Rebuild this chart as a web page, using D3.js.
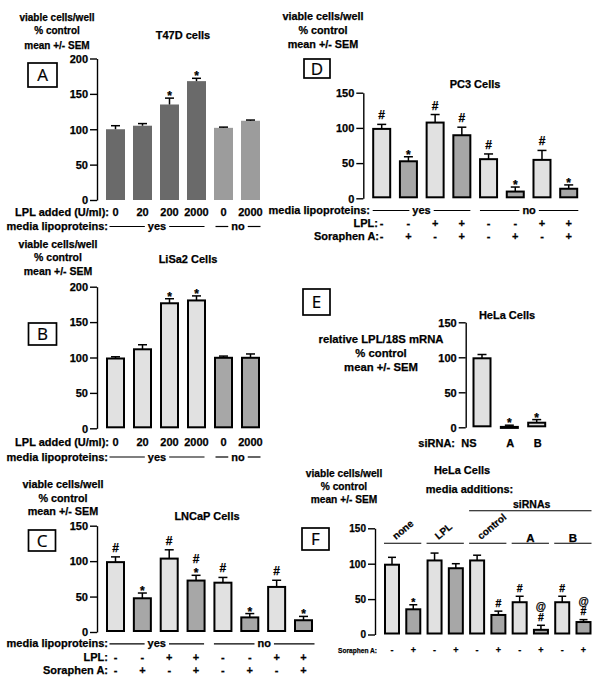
<!DOCTYPE html>
<html><head><meta charset="utf-8">
<script src="https://cdn.jsdelivr.net/npm/d3@7"></script>
<style>
body{margin:0;background:#fff}
svg text{font-family:"Liberation Sans",Arial,Helvetica,sans-serif;font-weight:bold;fill:#000;stroke:#000;stroke-width:0.25px}
svg text.box{font-family:"Open Sans","DejaVu Sans",sans-serif;font-weight:500;stroke-width:0.2px}
</style>
</head><body><svg id="c" width="602" height="686"></svg>
<script>
// ---------------- DATA ----------------
// Panel A: T47D cells
const A_dose = ["0","20","200","2000","0","2000"];
const A_lipo = ["yes","yes","yes","yes","no","no"];
const A_values = [100,105,135,168,102,112];
const A_sem = [5,3,9,4,1,1];
const A_marks = ["","","*","*","",""];
const A_ticks = [0,50,100,150,200];

// Panel B: LiSa2 cells
const B_dose = ["0","20","200","2000","0","2000"];
const B_lipo = ["yes","yes","yes","yes","no","no"];
const B_values = [100,113,178,182,101,101];
const B_sem = [1,5,5,5,1,4];
const B_marks = ["","","*","*","",""];
const B_ticks = [0,50,100,150,200];

// Panel C: LNCaP cells
const C_lipo = ["yes","yes","yes","yes","no","no","no","no"];
const C_lpl = ["-","-","+","+","-","-","+","+"];
const C_sora = ["-","+","-","+","-","+","-","+"];
const C_values = [100,49,105,74,71,22,65,18];
const C_sem = [6,6,11,6,6,4,8,4];
const C_marks = ["#","*","#","#*","#","*","#","*"];
const C_ticks = [0,50,100,150];

// Panel D: PC3 cells
const D_lipo = ["yes","yes","yes","yes","no","no","no","no"];
const D_lpl = ["-","-","+","+","-","-","+","+"];
const D_sora = ["-","+","-","+","-","+","-","+"];
const D_values = [100,54,109,91,57,11,56,15];
const D_sem = [5,5,10,10,6,5,12,4];
const D_marks = ["#","*","#","#","#","*","#","*"];
const D_ticks = [0,50,100,150];

// Panel E: HeLa cells, LPL mRNA
const E_sirna = ["NS","A","B"];
const E_values = [100,2,8];
const E_sem = [4,1,3];
const E_marks = ["","*","*"];
const E_ticks = [0,50,100,150];

// Panel F: HeLa cells, media additions
const F_group = ["none","none","LPL","LPL","control","control","A","A","B","B"];
const F_groupNames = ["none","LPL","control","A","B"];
const F_sora = ["-","+","-","+","-","+","-","+","-","+"];
const F_values = [100,37,106,95,106,29,47,8,47,19];
const F_sem = [9,5,9,5,6,4,7,5,7,2];
const F_marks = ["","*","","","","#","#","@#","#","@#"];
const F_ticks = [0,50,100,150];

// ---------------- DRAWING ----------------
const svg = d3.select("#c");
const LIGHT = "#e1e1e1", DARK = "#a7a7a7";

function txt(x, y, s, size, anchor) {
  return svg.append("text").attr("x", x).attr("y", y)
    .attr("text-anchor", anchor || "middle")
    .style("font-size", size + "px").text(s);
}
function hline(x1, x2, yy, w) {
  svg.append("line").attr("x1", x1).attr("x2", x2).attr("y1", yy).attr("y2", yy)
    .attr("stroke", "#000").attr("stroke-width", w || 1.2);
}
function box(x, y, w, h, letter) {
  svg.append("rect").attr("x", x).attr("y", y).attr("width", w).attr("height", h)
    .attr("fill", "none").attr("stroke", "#000").attr("stroke-width", 1.7);
  svg.append("text").attr("class", "box").attr("x", x + w / 2).attr("y", y + h / 2 + 6)
    .attr("text-anchor", "middle").style("font-size", "17px").text(letter);
}
function ylabel(cx, baselines, lines, size) {
  lines.forEach((l, i) => txt(cx, baselines[i], l, size));
}
function groupLabel(x1, x2, base, label, size) {
  const mid = (x1 + x2) / 2;
  const t = txt(mid, base, label, size);
  const w = t.node().getComputedTextLength();
  const ly = base - 3.5;
  hline(x1, mid - w / 2 - 3, ly);
  hline(mid + w / 2 + 3, x2, ly);
}

const glyphC = {"*": 6.3, "#": 3.9, "@": 3.4};
const firstOff = {"*": 4.5, "#": 8.5, "@": 8.5};

function drawPanel(p) {
  const n = p.values.length;
  const x = d3.scalePoint().domain(d3.range(n)).range(p.xRange);
  const y = d3.scaleLinear().domain([0, p.yMax]).range([p.y0, p.yTop]);
  const g = svg.append("g");
  const ax = g.append("g").attr("transform", `translate(${p.axisX},0)`)
    .call(d3.axisLeft(y).tickValues(p.ticks).tickSize(7).tickPadding(2)
      .tickSizeOuter(0).tickFormat(d3.format("d")));
  ax.select(".domain").attr("stroke", "#000").attr("stroke-width", 1.4);
  ax.selectAll(".tick line").attr("stroke", "#000").attr("stroke-width", 1.4);
  ax.selectAll(".tick text").style("font-size", p.tickSize + "px").attr("dy", "0.34em");

  const inset = p.outline ? 1 : 0;
  g.selectAll("rect.bar").data(p.values).join("rect").attr("class", "bar")
    .attr("x", (d, i) => x(i) - p.barW / 2 + inset)
    .attr("y", d => y(d) + inset)
    .attr("width", p.barW - 2 * inset)
    .attr("height", d => Math.max(1, p.y0 - y(d) - 2 * inset))
    .attr("fill", (d, i) => p.fills[i])
    .attr("stroke", p.outline ? "#000" : "none")
    .attr("stroke-width", p.outline ? 2 : 0);

  p.values.forEach((v, i) => {
    const top = y(v + p.sem[i]);
    g.append("line").attr("x1", x(i)).attr("x2", x(i)).attr("y1", y(v) + inset).attr("y2", top)
      .attr("stroke", "#000").attr("stroke-width", 1.5);
    g.append("line").attr("x1", x(i) - p.capW / 2).attr("x2", x(i) + p.capW / 2)
      .attr("y1", top).attr("y2", top).attr("stroke", "#000").attr("stroke-width", 1.5);
    const m = p.marks[i];
    if (m) {
      const s = p.markSize / 11;
      const chars = m.split("").reverse();
      let c = top - firstOff[chars[0]] * s;
      chars.forEach((ch, k) => {
        if (k > 0) c -= 10.5 * s;
        txt(x(i), c + glyphC[ch] * s, ch, p.markSize);
      });
    }
  });
  return x;
}

// ---------- Panel A ----------
const xA = drawPanel({values: A_values, sem: A_sem, marks: A_marks, ticks: A_ticks,
  xRange: [115.5, 250.5], axisX: 97, y0: 200, yTop: 58.5, yMax: 200, barW: 19, capW: 9,
  fills: A_lipo.map(l => l === "yes" ? "#6a6a6a" : "#9c9c9c"), outline: false, tickSize: 11, markSize: 12});
ylabel(57, [20.5, 34, 48.5], ["viable cells/well", "% control", "mean +/- SEM"], 10);
txt(183, 39.3, "T47D cells", 11);
box(28, 63, 29, 24, "A");
txt(109, 215.5, "LPL added (U/ml):", 11, "end");
A_dose.forEach((d, i) => txt(xA(i), 215.5, d, 11));
txt(108, 230, "media lipoproteins:", 11, "end");
groupLabel(xA(0) - 6, xA(3) + 8, 230, "yes", 11);
groupLabel(xA(4) - 8, xA(5) + 10, 230, "no", 11);

// ---------- Panel B ----------
const xB = drawPanel({values: B_values, sem: B_sem, marks: B_marks, ticks: B_ticks,
  xRange: [115.5, 250.5], axisX: 97, y0: 428.3, yTop: 286.7, yMax: 200, barW: 19, capW: 9,
  fills: B_lipo.map(l => l === "yes" ? LIGHT : DARK), outline: true, tickSize: 11, markSize: 12});
ylabel(58, [248, 261, 275], ["viable cells/well", "% control", "mean +/- SEM"], 10.5);
txt(188, 263.3, "LiSa2 Cells", 11);
box(28.5, 323, 28, 22, "B");
txt(109, 445.8, "LPL added (U/ml):", 11, "end");
B_dose.forEach((d, i) => txt(xB(i), 445.8, d, 11));
txt(108, 460.5, "media lipoproteins:", 11, "end");
groupLabel(xB(0) - 6, xB(3) + 8, 460.5, "yes", 11);
groupLabel(xB(4) - 8, xB(5) + 10, 460.5, "no", 11);

// ---------- Panel C ----------
const xC = drawPanel({values: C_values, sem: C_sem, marks: C_marks, ticks: C_ticks,
  xRange: [115.5, 303.5], axisX: 97, y0: 632, yTop: 525.7, yMax: 150, barW: 19, capW: 9,
  fills: C_sora.map(s => s === "-" ? LIGHT : DARK), outline: true, tickSize: 11, markSize: 12});
ylabel(63, [488, 501.7, 515], ["viable cells/well", "% control", "mean +/- SEM"], 10.8);
txt(207, 520, "LNCaP Cells", 11);
box(28.5, 530, 27, 21, "C");
txt(108, 647.3, "media lipoproteins:", 11, "end");
groupLabel(xC(0) - 6, xC(3) + 8, 647.3, "yes", 11);
groupLabel(xC(4) - 9, xC(7) + 11, 647.3, "no", 11);
txt(108, 661, "LPL:", 11, "end");
C_lpl.forEach((d, i) => txt(xC(i), 661, d, 11));
txt(108, 673.5, "Soraphen A:", 11, "end");
C_sora.forEach((d, i) => txt(xC(i), 673.5, d, 11));

// ---------- Panel D ----------
const xD = drawPanel({values: D_values, sem: D_sem, marks: D_marks, ticks: D_ticks,
  xRange: [381.7, 568.7], axisX: 363.3, y0: 198.3, yTop: 92.7, yMax: 150, barW: 19, capW: 9,
  fills: D_sora.map(s => s === "-" ? LIGHT : DARK), outline: true, tickSize: 11, markSize: 12});
ylabel(323, [20, 33.5, 48.3], ["viable cells/well", "% control", "mean +/- SEM"], 10.8);
txt(475, 88.3, "PC3 Cells", 11);
box(304, 59, 26, 19, "D");
txt(370, 214, "media lipoproteins:", 11, "end");
groupLabel(xD(0) - 9, xD(3) + 8.5, 214, "yes", 11);
groupLabel(xD(4) - 8.6, xD(7) + 9.6, 214, "no", 11);
txt(378, 227.3, "LPL:", 11, "end");
D_lpl.forEach((d, i) => txt(xD(i), 227.3, d, 11));
txt(379, 239.5, "Soraphen A:", 11, "end");
D_sora.forEach((d, i) => txt(xD(i), 239.5, d, 11));

// ---------- Panel E ----------
const xE = drawPanel({values: E_values, sem: E_sem, marks: E_marks, ticks: E_ticks,
  xRange: [482, 536.7], axisX: 465.7, y0: 427.3, yTop: 322.3, yMax: 150, barW: 19, capW: 9,
  fills: E_values.map(() => LIGHT), outline: true, tickSize: 11, markSize: 12});
ylabel(381, [343.3, 356.7, 370.5], ["relative LPL/18S mRNA", "% control", "mean +/- SEM"], 11.3);
txt(507, 319.3, "HeLa Cells", 11);
box(303, 289, 27, 26, "E");
txt(455, 446.5, "siRNA:", 11, "end");
E_sirna.forEach((d, i) => txt(i === 0 ? xE(i) - 13 : xE(i) + 1, 446.5, d, 11));

// ---------- Panel F ----------
const xF = drawPanel({values: F_values, sem: F_sem, marks: F_marks, ticks: F_ticks,
  xRange: [392, 583.5], axisX: 375, y0: 634.5, yTop: 528.3, yMax: 150, barW: 16, capW: 8,
  fills: F_sora.map(s => s === "-" ? LIGHT : DARK), outline: true, tickSize: 10, markSize: 10.5});
ylabel(344, [477.3, 490, 503.3], ["viable cells/well", "% control", "mean +/- SEM"], 10.2);
txt(462, 474, "HeLa Cells", 11);
txt(469.5, 492.5, "media additions:", 11);
box(302, 528, 27, 22, "F");
F_groupNames.forEach(gn => {
  const idx = F_group.map((g, i) => g === gn ? i : -1).filter(i => i >= 0);
  const x1 = xF(idx[0]) - 8, x2 = xF(idx[idx.length - 1]) + 8;
  hline(x1, x2, 543.3, 1.1);
  if (gn === "A" || gn === "B") {
    txt((x1 + x2) / 2, 541.5, gn, 11.5);
  } else {
    svg.append("text").attr("transform", `translate(${xF(idx[0]) + 4},540) rotate(-40)`)
      .style("font-size", "10px").text(gn);
  }
});
hline(xF(4) - 8, xF(9) + 8, 510.7, 1.1);
txt(531.7, 508.3, "siRNAs", 10.5);
txt(377, 653, "Soraphen A:", 8, "end").attr("textLength", 39).attr("lengthAdjust", "spacingAndGlyphs");
F_sora.forEach((d, i) => txt(xF(i), 653, d, 9));
</script>
</body></html>
